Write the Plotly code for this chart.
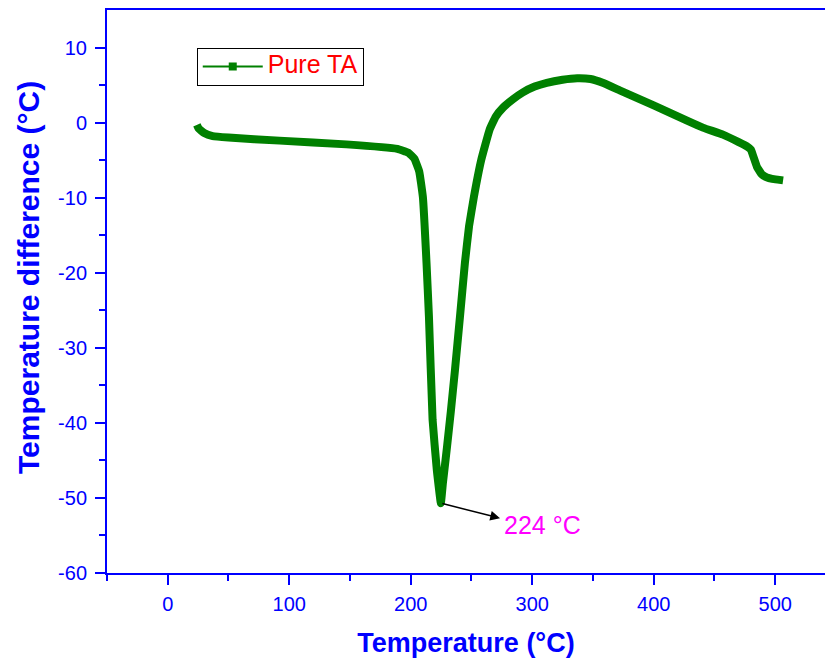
import plotly.graph_objects as go

temperature = [24, 25.5, 30, 37, 50, 92, 147, 189, 198, 203, 207, 210, 213, 215, 218, 221.5,
               224.8, 226.5, 229.8, 233, 236.4, 240.5, 244.6, 248, 252, 258, 265, 270,
               276, 284, 292, 302, 312, 325, 337, 348, 358, 372, 386, 400, 413.5, 427, 441,
               457, 470, 477, 480, 482, 485, 489, 493, 497.5, 502, 506.5]
temp_diff = [-0.3, -0.8, -1.4, -1.8, -2.0, -2.4, -2.9, -3.5, -4.0, -4.8, -6.5, -9.9, -18.7,
             -25.9, -39.6, -46.3, -50.7, -48.0, -43.3, -38.5, -33.0, -25.9, -18.7,
             -13.8, -9.9, -5.0, -0.9, 0.8, 2.0, 3.1, 4.0, 4.8, 5.3, 5.7, 5.9, 5.8, 5.3, 4.3,
             3.3, 2.3, 1.3, 0.3, -0.7, -1.6, -2.6, -3.2, -3.6, -4.5, -5.9, -6.9, -7.3, -7.5,
             -7.6, -7.7]
series_name = "Pure TA"
peak_T = 224.8
peak_dT = -50.7
peak_label = "224 °C"

x_tickvals = [0, 100, 200, 300, 400, 500]
x_ticktext = ["0", "100", "200", "300", "400", "500"]
y_tickvals = [10, 0, -10, -20, -30, -40, -50, -60]
y_ticktext = ["10", "0", "-10", "-20", "-30", "-40", "-50", "-60"]
x_minor = [-50, 50, 150, 250, 350, 450]
y_minor = [5, -5, -15, -25, -35, -45, -55]

blue = "#0000FF"
green = "#008000"
font_fam = "Liberation Sans, Arial"

fig = go.Figure()
fig.add_trace(go.Scatter(x=temperature, y=temp_diff, mode="lines",
                         line=dict(color=green, width=8, shape="spline", smoothing=0.3),
                         showlegend=False, hoverinfo="x+y"))
fig.add_trace(go.Scatter(x=[None], y=[None], mode="lines+markers",
                         name="<span style='font-size:25px'>" + series_name + "</span>",
                         line=dict(color=green, width=2),
                         marker=dict(symbol="square", size=8, color=green)))

# arrow from peak to label
fig.add_annotation(x=273.5, y=-52.7, ax=peak_T, ay=peak_dT, xref="x", yref="y",
                   axref="x", ayref="y", text="", showarrow=True, arrowhead=2,
                   arrowsize=1.3, arrowwidth=1.5, arrowcolor="black")
fig.add_annotation(x=275.5, y=-53.6, xref="x", yref="y", text=peak_label, showarrow=False,
                   xanchor="left", yanchor="middle",
                   font=dict(family=font_fam, size=25, color="#FF00FF"))
# y-axis title
fig.add_annotation(x=(28 - 107) / 718, y=1 - (278 - 10) / 563, xref="paper", yref="paper",
                   text="<b>Temperature difference (°C)</b>",
                   showarrow=False, textangle=-90, xanchor="center", yanchor="middle",
                   font=dict(family=font_fam, size=30, color=blue))

fig.update_layout(
    width=825, height=659,
    margin=dict(l=107, r=0, t=10, b=86),
    paper_bgcolor="white", plot_bgcolor="white",
    font=dict(family=font_fam, color=blue),
    legend=dict(x=0.125, y=0.9325, xanchor="left", yanchor="top",
                bordercolor="black", borderwidth=1, bgcolor="white",
                font=dict(size=17, color="red"), itemwidth=60),
    xaxis=dict(range=[-50, 541], tickmode="array", tickvals=x_tickvals, ticktext=x_ticktext,
               showgrid=False, zeroline=False,
               showline=True, linecolor=blue, linewidth=2, mirror=True,
               ticks="outside", ticklen=10, tickwidth=2, tickcolor=blue,
               minor=dict(tickmode="array", tickvals=x_minor, ticks="outside", ticklen=6,
                          tickwidth=2, tickcolor=blue, showgrid=False),
               tickfont=dict(size=20, color=blue), ticklabelstandoff=2,
               title=dict(text="<b>Temperature (°C)</b>", font=dict(size=27, color=blue),
                          standoff=19)),
    yaxis=dict(range=[-60, 15], tickmode="array", tickvals=y_tickvals, ticktext=y_ticktext,
               showgrid=False, zeroline=False,
               showline=True, linecolor=blue, linewidth=2, mirror=False,
               ticks="outside", ticklen=10, tickwidth=2, tickcolor=blue,
               minor=dict(tickmode="array", tickvals=y_minor, ticks="outside", ticklen=6,
                          tickwidth=2, tickcolor=blue, showgrid=False),
               tickfont=dict(size=20, color=blue), ticklabelstandoff=4),
)

fig.write_html("out.html")
